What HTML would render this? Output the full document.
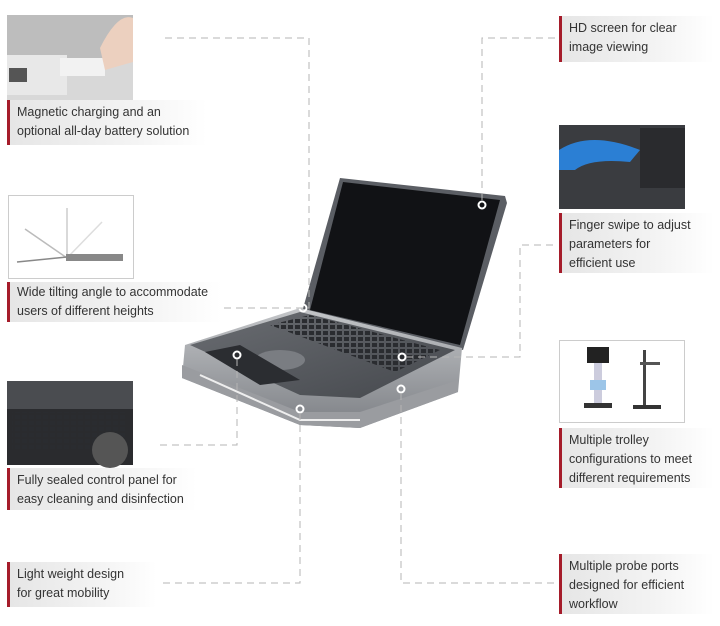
<!DOCTYPE html>
<html><head><meta charset="utf-8"><style>
body{margin:0;width:720px;height:626px;background:#fff;position:relative;overflow:hidden;font-family:"Liberation Sans",sans-serif;}
.lab{position:absolute;background:linear-gradient(90deg,#e6e6e6 0%,#f3f3f3 60%,#fff 100%);border-left:3px solid #a51c2a;color:#333;font-size:12.5px;line-height:19px;padding:3px 0 3px 7px;box-sizing:border-box}
svg{position:absolute;left:0;top:0}
</style></head><body>
<svg width="720" height="626">
<defs>
<linearGradient id="g1" x1="0" y1="0" x2="0" y2="1"><stop offset="0" stop-color="#c4c6c9"/><stop offset="1" stop-color="#7d8085"/></linearGradient>
<linearGradient id="g2" x1="0" y1="0" x2="1" y2="1"><stop offset="0" stop-color="#6a6d72"/><stop offset="1" stop-color="#45484d"/></linearGradient>
<pattern id="keys" width="7" height="6" patternUnits="userSpaceOnUse"><rect x="1" y="1" width="5" height="4" fill="#2a2c30"/></pattern>
</defs>
<!-- image1 -->
<rect x="7" y="15" width="126" height="85" fill="#d8d8d8"/>
<rect x="7" y="15" width="126" height="45" fill="#bdbdbd"/>
<rect x="7" y="55" width="60" height="40" fill="#e8e8e8"/>
<rect x="9" y="68" width="18" height="14" fill="#555"/>
<rect x="60" y="58" width="45" height="18" fill="#f2f2f2"/>
<path d="M100 48 Q118 12 133 18 L133 62 L105 70Z" fill="#ecd0bf"/>
<!-- image2 -->
<rect x="8.5" y="195.5" width="125" height="83" fill="#fff" stroke="#ccc"/>
<line x1="67" y1="208" x2="67" y2="258" stroke="#ccc" stroke-width="1.5"/>
<line x1="25" y1="229" x2="67" y2="258" stroke="#bbb" stroke-width="1.5"/>
<line x1="102" y1="222" x2="67" y2="258" stroke="#ddd" stroke-width="1.5"/>
<line x1="17" y1="262" x2="67" y2="257" stroke="#888" stroke-width="1.5"/>
<rect x="66" y="254" width="57" height="7" fill="#888"/>
<!-- image3 -->
<rect x="7" y="381" width="126" height="84" fill="#2a2b2e"/>
<rect x="7" y="381" width="126" height="28" fill="#4a4c50"/>
<rect x="12" y="412" width="115" height="38" fill="url(#keys)" opacity="0.9"/>
<circle cx="110" cy="450" r="18" fill="#555"/>
<!-- finger image -->
<rect x="559" y="125" width="126" height="84" fill="#3a3c40"/>
<rect x="640" y="128" width="45" height="60" fill="#2a2b2e"/>
<path d="M559 150 Q590 130 640 150 L630 162 Q590 158 575 170 L559 170Z" fill="#2b7fd4"/>
<!-- trolley image -->
<rect x="559.5" y="340.5" width="125" height="82" fill="#fff" stroke="#ccc"/>
<rect x="587" y="347" width="22" height="16" fill="#222"/>
<rect x="594" y="363" width="8" height="40" fill="#ccd"/>
<rect x="590" y="380" width="16" height="10" fill="#9cc5e8"/>
<rect x="584" y="403" width="28" height="5" fill="#333"/>
<rect x="643" y="350" width="3" height="55" fill="#444"/>
<rect x="640" y="362" width="20" height="3" fill="#555"/>
<rect x="633" y="405" width="28" height="4" fill="#333"/>
<!-- laptop -->
<path d="M340 178 L505 196 L507 203 L463 350 L302 312 Z" fill="#5b5e64"/>
<path d="M343 182 L500 200 L460 345 L310 310 Z" fill="#111215"/>
<path d="M185 345 L300 308 L462 348 L458 392 L360 428 L300 425 L182 378 Z" fill="url(#g1)"/>
<path d="M190 345 L300 312 L455 350 L360 398 L300 395 Z" fill="url(#g2)"/>
<path d="M270 325 L310 315 L440 350 L395 372 Z" fill="url(#keys)"/>
<path d="M182 365 L300 412 L360 412 L458 380 L458 392 L360 428 L300 425 L182 378Z" fill="#9a9ca0"/>
<path d="M200 375 L300 420 L360 420" stroke="#eee" stroke-width="2" fill="none"/>
<ellipse cx="280" cy="360" rx="25" ry="10" fill="#7a7d82"/>
<path d="M205 352 L240 345 L300 380 L260 385Z" fill="#2b2d31"/>
<g fill="none" stroke="#fff" stroke-width="2">
<circle cx="482" cy="205" r="3.5"/><circle cx="303" cy="308" r="3.5"/><circle cx="237" cy="355" r="3.5"/>
<circle cx="402" cy="357" r="3.5"/><circle cx="401" cy="389" r="3.5"/><circle cx="300" cy="409" r="3.5"/>
</g>
<g fill="none" stroke="#b5b5b5" stroke-width="1" stroke-dasharray="7,5">
<path d="M165 38 H309 V308 H170"/>
<path d="M237 359 V445 H160"/>
<path d="M300 413 V583 H160"/>
<path d="M555 38 H482 V201"/>
<path d="M406 357 H520 V245 H555"/>
<path d="M401 393 V583 H555"/>
</g>
</svg>
<div class="lab" style="left:7px;top:100px;width:200px;height:45px">Magnetic charging and an<br>optional all-day battery solution</div>
<div class="lab" style="left:7px;top:282px;width:215px;height:40px;padding-top:1px">Wide tilting angle to accommodate<br>users of different heights</div>
<div class="lab" style="left:7px;top:468px;width:190px;height:42px">Fully sealed control panel for<br>easy cleaning and disinfection</div>
<div class="lab" style="left:7px;top:562px;width:150px;height:45px">Light weight design<br>for great mobility</div>
<div class="lab" style="left:559px;top:16px;width:155px;height:46px">HD screen for clear<br>image viewing</div>
<div class="lab" style="left:559px;top:213px;width:155px;height:60px">Finger swipe to adjust<br>parameters for<br>efficient use</div>
<div class="lab" style="left:559px;top:428px;width:155px;height:60px">Multiple trolley<br>configurations to meet<br>different requirements</div>
<div class="lab" style="left:559px;top:554px;width:155px;height:60px">Multiple probe ports<br>designed for efficient<br>workflow</div>
</body></html>
